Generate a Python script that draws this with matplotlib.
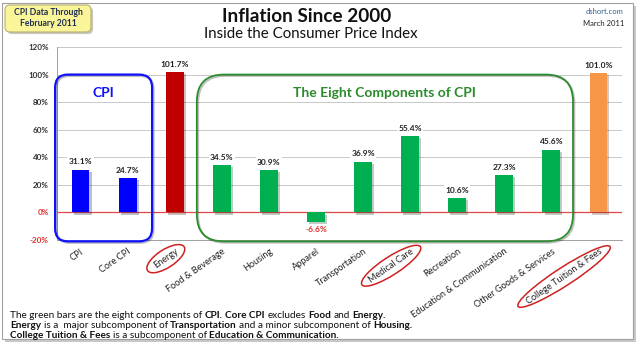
import matplotlib
matplotlib.use("Agg")
import matplotlib.pyplot as plt
import matplotlib.patheffects as pe
from matplotlib.patches import FancyBboxPatch, Ellipse, Rectangle
from matplotlib.text import Annotation

plt.rcParams['font.family'] = ['Lato', 'DejaVu Sans']

categories = ["CPI", "Core CPI", "Energy", "Food & Beverage", "Housing", "Apparel",
              "Transportation", "Medical Care", "Recreation",
              "Education & Communication", "Other Goods & Services",
              "College Tuition & Fees"]
values = [31.1, 24.7, 101.7, 34.5, 30.9, -6.6, 36.9, 55.4, 10.6, 27.3, 45.6, 101.0]
groups = ["cpi", "cpi", "energy"] + ["component"] * 8 + ["college"]
circled = ["Energy", "Medical Care", "College Tuition & Fees"]
yticks = [-20, 0, 20, 40, 60, 80, 100, 120]

group_colors = {"cpi": "#0000FF", "energy": "#C00000",
                "component": "#00B050", "college": "#F79646"}

W, H, DPI = 640, 345, 100
fig = plt.figure(figsize=(W / DPI, H / DPI), dpi=DPI)
fig.patch.set_facecolor("white")


def px(x, y):
    # pixel position (top-left origin) -> inches for fig.dpi_scale_trans
    return x / DPI, (H - y) / DPI


# outer chart frame with shadow
x0, y0 = px(2, 339)
fig.add_artist(Rectangle((x0 + 0.025, y0 - 0.025), 6.31, 3.36, transform=fig.dpi_scale_trans,
                         facecolor="#C8C8C8", edgecolor="none", zorder=-3))
fig.add_artist(Rectangle((x0, y0), 6.31, 3.36, transform=fig.dpi_scale_trans,
                         facecolor="white", edgecolor="#A0A0A0", lw=0.8, zorder=-2))

ax = fig.add_axes([57 / W, 1 - 240 / H, 565 / W, 193 / H])
ax.patch.set_alpha(0)
ax.set_xlim(-0.5, len(categories) - 0.5)
ax.set_ylim(-20, 120)

xs = list(range(len(categories)))
bars = ax.bar(xs, values, width=0.38, color=[group_colors[g] for g in groups], zorder=3)
for b in bars:
    b.set_path_effects([pe.SimplePatchShadow(offset=(1.5, -1.5), alpha=0.25), pe.Normal()])

ax.set_yticks(yticks)
ax.set_yticklabels([f"{v}%" for v in yticks], fontsize=5.8, fontweight="bold")
for lab, v in zip(ax.get_yticklabels(), yticks):
    lab.set_color("#E03030" if v <= 0 else "#333333")
ax.tick_params(axis="y", length=0, pad=6)
ax.grid(axis="y", color="#C8C8C8", lw=0.7, zorder=0)
ax.axhline(0, color="#E04848", lw=0.9, zorder=2)

ax.set_xticks(xs)
ax.set_xticklabels(categories, rotation=35, ha="right", rotation_mode="anchor",
                   fontsize=6.6, color="#222222")
ax.tick_params(axis="x", length=0, pad=5)

for s in ["top", "right"]:
    ax.spines[s].set_visible(False)
ax.spines["left"].set_color("#A0A0A0")
ax.spines["bottom"].set_color("#A0A0A0")
ax.spines["left"].set_linewidth(0.7)
ax.spines["bottom"].set_linewidth(0.7)

for x, v in zip(xs, values):
    if v >= 0:
        ax.annotate(f"{v:.1f}%", (x, v), xytext=(0, 3), textcoords="offset points",
                    ha="center", va="bottom", fontsize=6, fontweight="bold", color="#222222",
                    bbox=dict(boxstyle="square,pad=0.15", fc="white", ec="none"), zorder=4)
    else:
        ax.annotate(f"{v:.1f}%", (x, v), xytext=(0, -3), textcoords="offset points",
                    ha="center", va="top", fontsize=6, fontweight="bold", color="#E03030",
                    zorder=4)

fig.canvas.draw()
to_in = ax.transData + fig.dpi_scale_trans.inverted()


def group_box(xl, xr, yb, yt, color, r, lw):
    (ax0, ay0) = to_in.transform((xl, yb))
    (ax1, ay1) = to_in.transform((xr, yt))
    box = FancyBboxPatch((ax0, ay0), ax1 - ax0, ay1 - ay0,
                         boxstyle=f"round,pad=0,rounding_size={r}",
                         transform=fig.dpi_scale_trans, facecolor="none",
                         edgecolor=color, lw=lw, zorder=5)
    box.set_path_effects([pe.SimpleLineShadow(offset=(1, -1), alpha=0.25), pe.Normal()])
    fig.add_artist(box)
    return (ax0 + ax1) / 2


cx = group_box(-0.54, 1.52, -21, 100, "#1010FF", 0.13, 1.6)
fig.text(cx, 2.52, "CPI", transform=fig.dpi_scale_trans, ha="center", va="center",
         fontsize=10, fontweight="bold", color="#1010FF")
cx = group_box(2.47, 10.46, -21, 100, "#2A8C2A", 0.27, 1.3)
fig.text(cx, 2.52, "The Eight Components of CPI", transform=fig.dpi_scale_trans,
         ha="center", va="center", fontsize=10, fontweight="bold", color="#2A8C2A")

# red ellipses around highlighted labels
renderer = fig.canvas.get_renderer()
for lab in ax.get_xticklabels():
    if lab.get_text() in circled:
        bb = lab.get_window_extent(renderer)
        th = 9.0
        length = (bb.width - th * 0.574) / 0.819
        cxp, cyp = (bb.x0 + bb.x1) / 2 / DPI, (bb.y0 + bb.y1) / 2 / DPI
        fig.add_artist(Ellipse((cxp, cyp), (length * 1.06 + 14) / DPI, (th + 9) / DPI,
                               angle=33, transform=fig.dpi_scale_trans, facecolor="none",
                               edgecolor="#D02020", lw=1.1, zorder=5))

# header
fig.text(*px(307, 16), "Inflation Since 2000", transform=fig.dpi_scale_trans,
         ha="center", va="center", fontsize=13.6, fontweight="bold", color="#111111")
fig.text(*px(311, 34), "Inside the Consumer Price Index", transform=fig.dpi_scale_trans,
         ha="center", va="center", fontsize=10.8, color="#111111")
fig.text(*px(624, 12), "dshort.com", transform=fig.dpi_scale_trans,
         ha="right", va="center", fontsize=5.5, color="#376092")
fig.text(*px(624, 24), "March 2011", transform=fig.dpi_scale_trans,
         ha="right", va="center", fontsize=5.5, color="#222222")

bx, by = px(5, 32)
note = FancyBboxPatch((bx, by), 0.86, 0.27, boxstyle="round,pad=0,rounding_size=0.05",
                      transform=fig.dpi_scale_trans, facecolor="#FBF59A",
                      edgecolor="#B8B070", lw=0.8, zorder=5)
note.set_path_effects([pe.SimplePatchShadow(offset=(1.5, -1.5), alpha=0.3), pe.Normal()])
fig.add_artist(note)
fig.text(*px(48, 18), "CPI Data Through\nFebruary 2011", transform=fig.dpi_scale_trans,
         ha="center", va="center", fontsize=6.2, fontweight="bold", color="#1F2F50",
         linespacing=1.25, zorder=6)

# footnote with mixed weights
foot = [
    [("The green bars are the eight components of", False), ("CPI.", True),
     ("Core CPI", True), ("excludes", False), ("Food", True), ("and", False), ("Energy.", True)],
    [("Energy", True), ("is a  major subcomponent of", False), ("Transportation", True),
     ("and a minor subcomponent of", False), ("Housing.", True)],
    [("College Tuition & Fees", True), ("is a subcomponent of", False),
     ("Education & Communication.", True)],
]
gap = 1.8
for i, parts in enumerate(foot):
    t = None
    for s, bold in parts:
        kw = dict(fontsize=7.2, fontweight="bold" if bold else "normal", color="#111111",
                  ha="left")
        if t is None:
            t = fig.text(*px(10, 317.5 + i * 10), s, transform=fig.dpi_scale_trans,
                         va="baseline", **kw)
        else:
            t = fig.add_artist(Annotation(s, xy=(1, 0), xycoords=t, xytext=(gap, 0),
                                          textcoords="offset points", va="bottom", **kw))

fig.savefig("out.png", dpi=DPI)
